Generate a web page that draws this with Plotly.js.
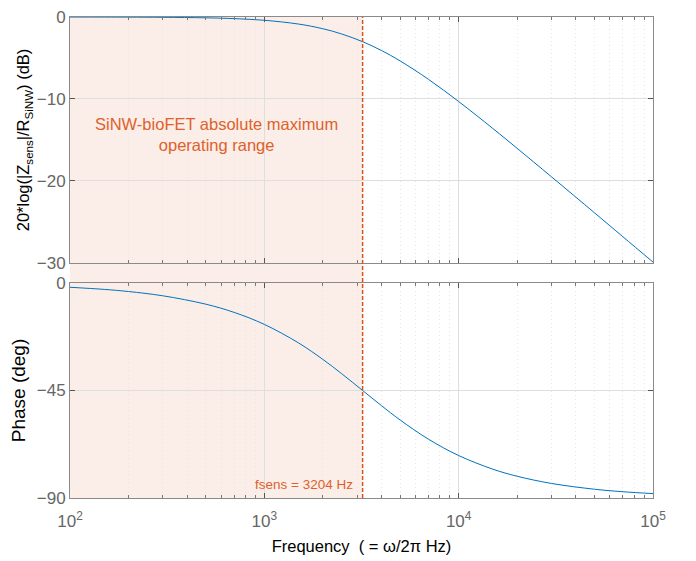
<!DOCTYPE html>
<html>
<head>
<meta charset="utf-8">
<script src="https://cdn.plot.ly/plotly-3.0.1.min.js"></script>
<style>html,body{margin:0;padding:0;background:#fff;} #chart{width:696px;height:561px;}</style>
</head>
<body>
<div id="chart"></div>
<script>
// Frequencies (Hz)
const freq = [100, 150, 200, 300, 500, 700, 1000, 1500, 2000, 2500, 3204, 4000, 5000, 7000, 10000, 15000, 20000, 30000, 50000, 70000, 100000];
// Magnitude (dB)
const magDb = [-0.004, -0.01, -0.017, -0.038, -0.10, -0.20, -0.40, -0.86, -1.43, -2.07, -3.01, -4.08, -5.36, -7.61, -10.31, -13.60, -16.02, -19.48, -23.88, -26.80, -29.89];
// Phase (deg)
const phaseDeg = [-1.79, -2.68, -3.57, -5.35, -8.87, -12.32, -17.33, -25.09, -31.97, -37.96, -45.0, -51.30, -57.35, -65.41, -72.23, -77.94, -80.90, -83.90, -86.33, -87.38, -88.16];
const fsens = 3204;
const fmin = 100;
const xTickVals = [100, 1000, 10000, 100000];
const xTickText = ['10<sup>2</sup>', '10<sup>3</sup>', '10<sup>4</sup>', '10<sup>5</sup>'];
const magTicks = [0, -10, -20, -30];
const phaseTicks = [0, -45, -90];
const regionLabel = 'SiNW-bioFET absolute maximum<br>operating range';
const fsensLabel = 'fsens = ' + fsens + ' Hz';

const blue = '#0072BD';
const orange = '#D95319';
const fam = 'Liberation Sans, Arial, sans-serif';
const tickFont = {family: fam, size: 17, color: '#666'};
const titleFont = {family: fam, size: 16.5, color: '#000'};

const xCommon = {
  type: 'log', range: [2, 5],
  tickvals: xTickVals, ticktext: xTickText,
  ticks: 'inside', ticklen: 5, tickcolor: '#555', tickwidth: 1,
  showline: true, linecolor: '#8a8a8a', linewidth: 1, mirror: 'ticks',
  showgrid: true, gridcolor: '#dedede', gridwidth: 1,
  minor: {dtick: 'D1', ticks: 'inside', ticklen: 3, tickcolor: '#777', showgrid: true, gridcolor: '#e6e6e6', griddash: '1px,3px', gridwidth: 1},
  tickfont: tickFont, zeroline: false
};

const traces = [
  {x: freq, y: magDb, xaxis: 'x2', yaxis: 'y2', mode: 'lines', line: {color: blue, width: 1, shape: 'spline'}, hoverinfo: 'none'},
  {x: freq, y: phaseDeg, xaxis: 'x', yaxis: 'y', mode: 'lines', line: {color: blue, width: 1, shape: 'spline'}, hoverinfo: 'none'}
];

const layout = {
  width: 696, height: 561,
  margin: {l: 70, r: 43, t: 17, b: 63},
  paper_bgcolor: '#fff', plot_bgcolor: 'rgba(0,0,0,0)',
  showlegend: false,
  font: {family: fam},
  xaxis: Object.assign({}, xCommon, {anchor: 'y', ticklabelstandoff: 8, title: {text: 'Frequency  ( = ω/2π Hz)', font: titleFont, standoff: 10}}),
  xaxis2: Object.assign({}, xCommon, {anchor: 'y2', matches: 'x', showticklabels: false}),
  yaxis: {
    domain: [0, 0.447], range: [-90, 0], tickvals: phaseTicks,
    ticks: 'inside', ticklen: 5, tickcolor: '#555',
    showline: true, linecolor: '#8a8a8a', mirror: 'ticks',
    showgrid: true, gridcolor: '#dedede', zeroline: false,
    tickfont: tickFont,
    title: {text: 'Phase (deg)', font: {family: fam, size: 19, color: '#000'}, standoff: 6}
  },
  yaxis2: {
    domain: [0.4886, 1], range: [-30, 0], tickvals: magTicks,
    ticks: 'inside', ticklen: 5, tickcolor: '#555',
    showline: true, linecolor: '#8a8a8a', mirror: 'ticks',
    showgrid: true, gridcolor: '#dedede', zeroline: false,
    tickfont: tickFont,
    title: {text: '20*log(|Z<sub>sens</sub>|/R<sub>SiNW</sub>) (dB)', font: titleFont, standoff: 2}
  },
  shapes: [
    {type: 'rect', xref: 'x', yref: 'paper', x0: fmin, x1: fsens, y0: 0, y1: 1,
     fillcolor: '#fbeee9', line: {width: 0}, layer: 'below'},
    {type: 'line', xref: 'x', yref: 'paper', x0: fsens, x1: fsens, y0: 0, y1: 1,
     line: {color: orange, width: 1.5, dash: '4px,2px'}, layer: 'above'}
  ],
  annotations: [
    {xref: 'x2', yref: 'y2', x: (Math.log10(fmin) + Math.log10(fsens)) / 2, y: -14.3, text: regionLabel,
     showarrow: false, font: {family: fam, size: 16.5, color: '#E0602A'}, align: 'center'},
    {xref: 'x', yref: 'y', x: Math.log10(fsens), y: -84.5, text: fsensLabel, xanchor: 'right', xshift: -8,
     showarrow: false, font: {family: fam, size: 13.5, color: '#E0602A'}}
  ]
};

Plotly.newPlot('chart', traces, layout, {staticPlot: true, displayModeBar: false});
</script>
</body>
</html>
